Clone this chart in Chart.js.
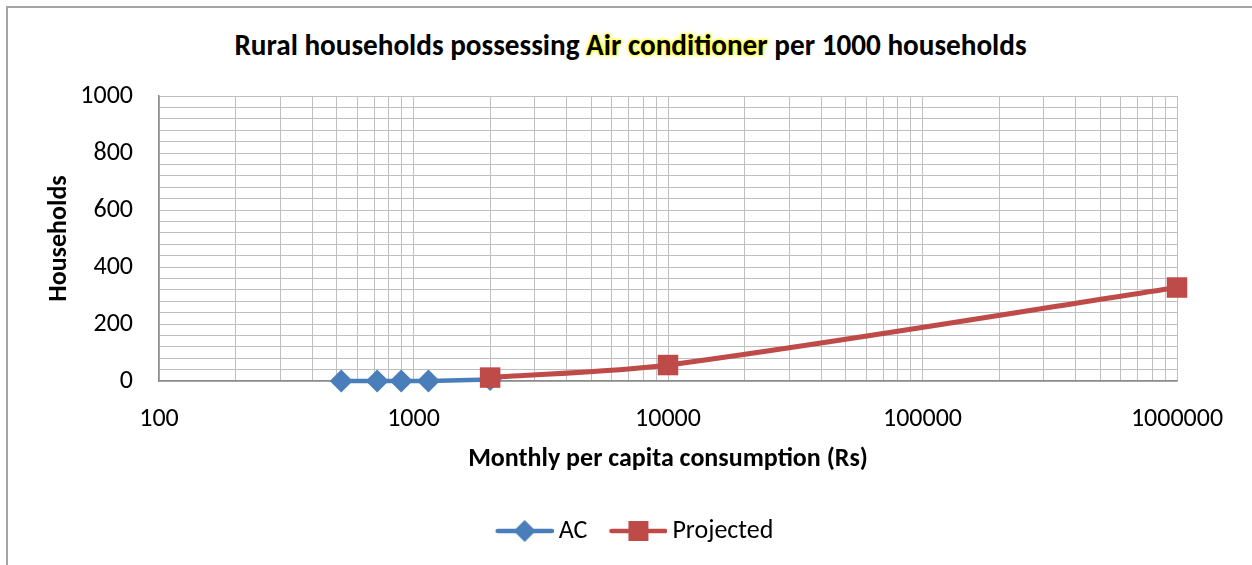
<!DOCTYPE html>
<html>
<head>
<meta charset="utf-8">
<script src="https://cdn.jsdelivr.net/npm/chart.js@4/dist/chart.umd.min.js"></script>
<style>
  html, body { margin: 0; padding: 0; background: #fff; overflow: hidden; }
  #wrap { position: relative; width: 1252px; height: 565px; }
  #frame { position: absolute; left: 6px; top: 6px; width: 1400px; height: 700px; border: 2px solid #a5a5a5; }
  #title { position: absolute; left: 0; top: 27px; width: 1261px; text-align: center; line-height: 34px;
    font: bold 29.2px Carlito, Calibri, Lato, sans-serif; color: #000; }
  #title span { text-shadow: 0 0 2px #ffff00, 0 0 3px #ffff00, 0 0 4px #ffff40; }
  canvas { position: absolute; left: 0; top: 0; }
</style>
</head>
<body>
<div id="wrap">
  <div id="frame"></div>
  <div id="title">Rural households possessing <span>Air conditioner</span> per 1000 households</div>
  <canvas id="chart" width="1252" height="565"></canvas>
</div>
<script>
// consumption classes (Rs) and households per 1000
const acX = [520, 720, 895, 1145, 2000];
const acY = [0, 0, 0, 0, 5];
const projX = [2000, 10000, 1000000];
const projY = [12, 56, 328];

const xMajorTicks = [100, 1000, 10000, 100000, 1000000];
const yMajorTicks = [0, 200, 400, 600, 800, 1000];
const yMinorStep = 40;

const blue = '#4a7ebb';
const red = '#be4b48';
const fontFam = 'Carlito, Calibri, Lato, sans-serif';

// legend symbol: line with marker in the middle (shifted right inside a wider image)
function legendIcon(color, shape) {
    const c = document.createElement('canvas');
    c.width = 74; c.height = 24;
    const g = c.getContext('2d');
    const o = 16;
    g.strokeStyle = color;
    g.lineWidth = 4.5;
    g.lineCap = 'round';
    g.beginPath(); g.moveTo(o + 2, 12); g.lineTo(o + 56, 12); g.stroke();
    g.fillStyle = color;
    g.beginPath();
    if (shape === 'diamond') {
        g.moveTo(o + 29, 1); g.lineTo(o + 40, 12); g.lineTo(o + 29, 23); g.lineTo(o + 18, 12);
    } else {
        g.rect(o + 19, 2, 20, 20);
    }
    g.closePath(); g.fill();
    return c;
}
const icons = [legendIcon(blue, 'diamond'), legendIcon(red, 'square')];

// nudge the legend sideways, it is centred under the plot in the original
const legendShift = {
    id: 'legendShift',
    afterLayout(ch) {
        const lg = ch.legend;
        if (lg) { lg.left += 42; lg.right += 42; }
    }
};

const ctx = document.getElementById('chart').getContext('2d');
const chart = new Chart(ctx, {
    type: 'line',
    data: {
        datasets: [
            {
                label: 'AC',
                data: acX.map((x, i) => ({x: x, y: acY[i]})),
                borderColor: blue,
                backgroundColor: blue,
                borderWidth: 4.5,
                pointStyle: 'rectRot',
                pointRadius: 11.5,
                pointHoverRadius: 11.5,
                pointBorderWidth: 0,
                tension: 0.3,
                clip: false,
                order: 2
            },
            {
                label: 'Projected',
                data: projX.map((x, i) => ({x: x, y: projY[i]})),
                borderColor: red,
                backgroundColor: red,
                borderWidth: 5,
                pointStyle: 'rect',
                pointRadius: 14.5,
                pointHoverRadius: 14.5,
                pointBorderWidth: 0,
                tension: 0.3,
                clip: false,
                order: 1
            }
        ]
    },
    plugins: [legendShift],
    options: {
        responsive: false,
        animation: false,
        events: [],
        layout: { padding: { left: 0, right: 75, top: 96, bottom: 11 } },
        scales: {
            x: {
                type: 'logarithmic',
                min: 100,
                max: 1000000,
                afterBuildTicks: (scale) => {
                    const t = [];
                    for (let i = 0; i < xMajorTicks.length - 1; i++) {
                        for (let m = 1; m < 10; m++) t.push({value: xMajorTicks[i] * m});
                    }
                    t.push({value: xMajorTicks[xMajorTicks.length - 1]});
                    scale.ticks = t;
                },
                afterFit: (scale) => { scale.height = 123; },
                ticks: {
                    autoSkip: false,
                    maxRotation: 0,
                    padding: 23,
                    color: '#000',
                    font: { family: fontFam, size: 26 },
                    callback: (v) => xMajorTicks.includes(v) ? String(v) : ''
                },
                grid: { color: '#bfbfbf', lineWidth: 1, drawTicks: false },
                border: { color: '#8c8c8c', width: 1.5 },
                title: {
                    display: true,
                    text: 'Monthly per capita consumption (Rs)',
                    color: '#000',
                    font: { family: fontFam, size: 26, weight: 'bold' },
                    padding: { top: 0, bottom: 29 }
                }
            },
            y: {
                min: 0,
                max: 1000,
                afterFit: (scale) => { scale.width = 159; },
                ticks: {
                    stepSize: yMinorStep,
                    autoSkip: false,
                    padding: 26,
                    color: '#000',
                    font: { family: fontFam, size: 26 },
                    callback: (v) => yMajorTicks.includes(v) ? String(v) : ''
                },
                grid: { color: '#bfbfbf', lineWidth: 1, drawTicks: false },
                border: { color: '#8c8c8c', width: 1.5 },
                title: {
                    display: true,
                    text: 'Households',
                    color: '#000',
                    font: { family: fontFam, size: 26, weight: 'bold' },
                    padding: { top: 44, bottom: 0 }
                }
            }
        },
        plugins: {
            title: { display: false },
            tooltip: { enabled: false },
            legend: {
                position: 'bottom',
                labels: {
                    usePointStyle: true,
                    pointStyleWidth: 58,
                    padding: 14,
                    color: '#000',
                    font: { family: fontFam, size: 26 },
                    sort: (a, b) => a.datasetIndex - b.datasetIndex,
                    generateLabels: (ch) => {
                        const items = Chart.defaults.plugins.legend.labels.generateLabels(ch);
                        items.forEach((it) => { it.pointStyle = icons[it.datasetIndex]; it.rotation = 0; });
                        return items;
                    }
                }
            }
        }
    }
});
</script>
</body>
</html>
